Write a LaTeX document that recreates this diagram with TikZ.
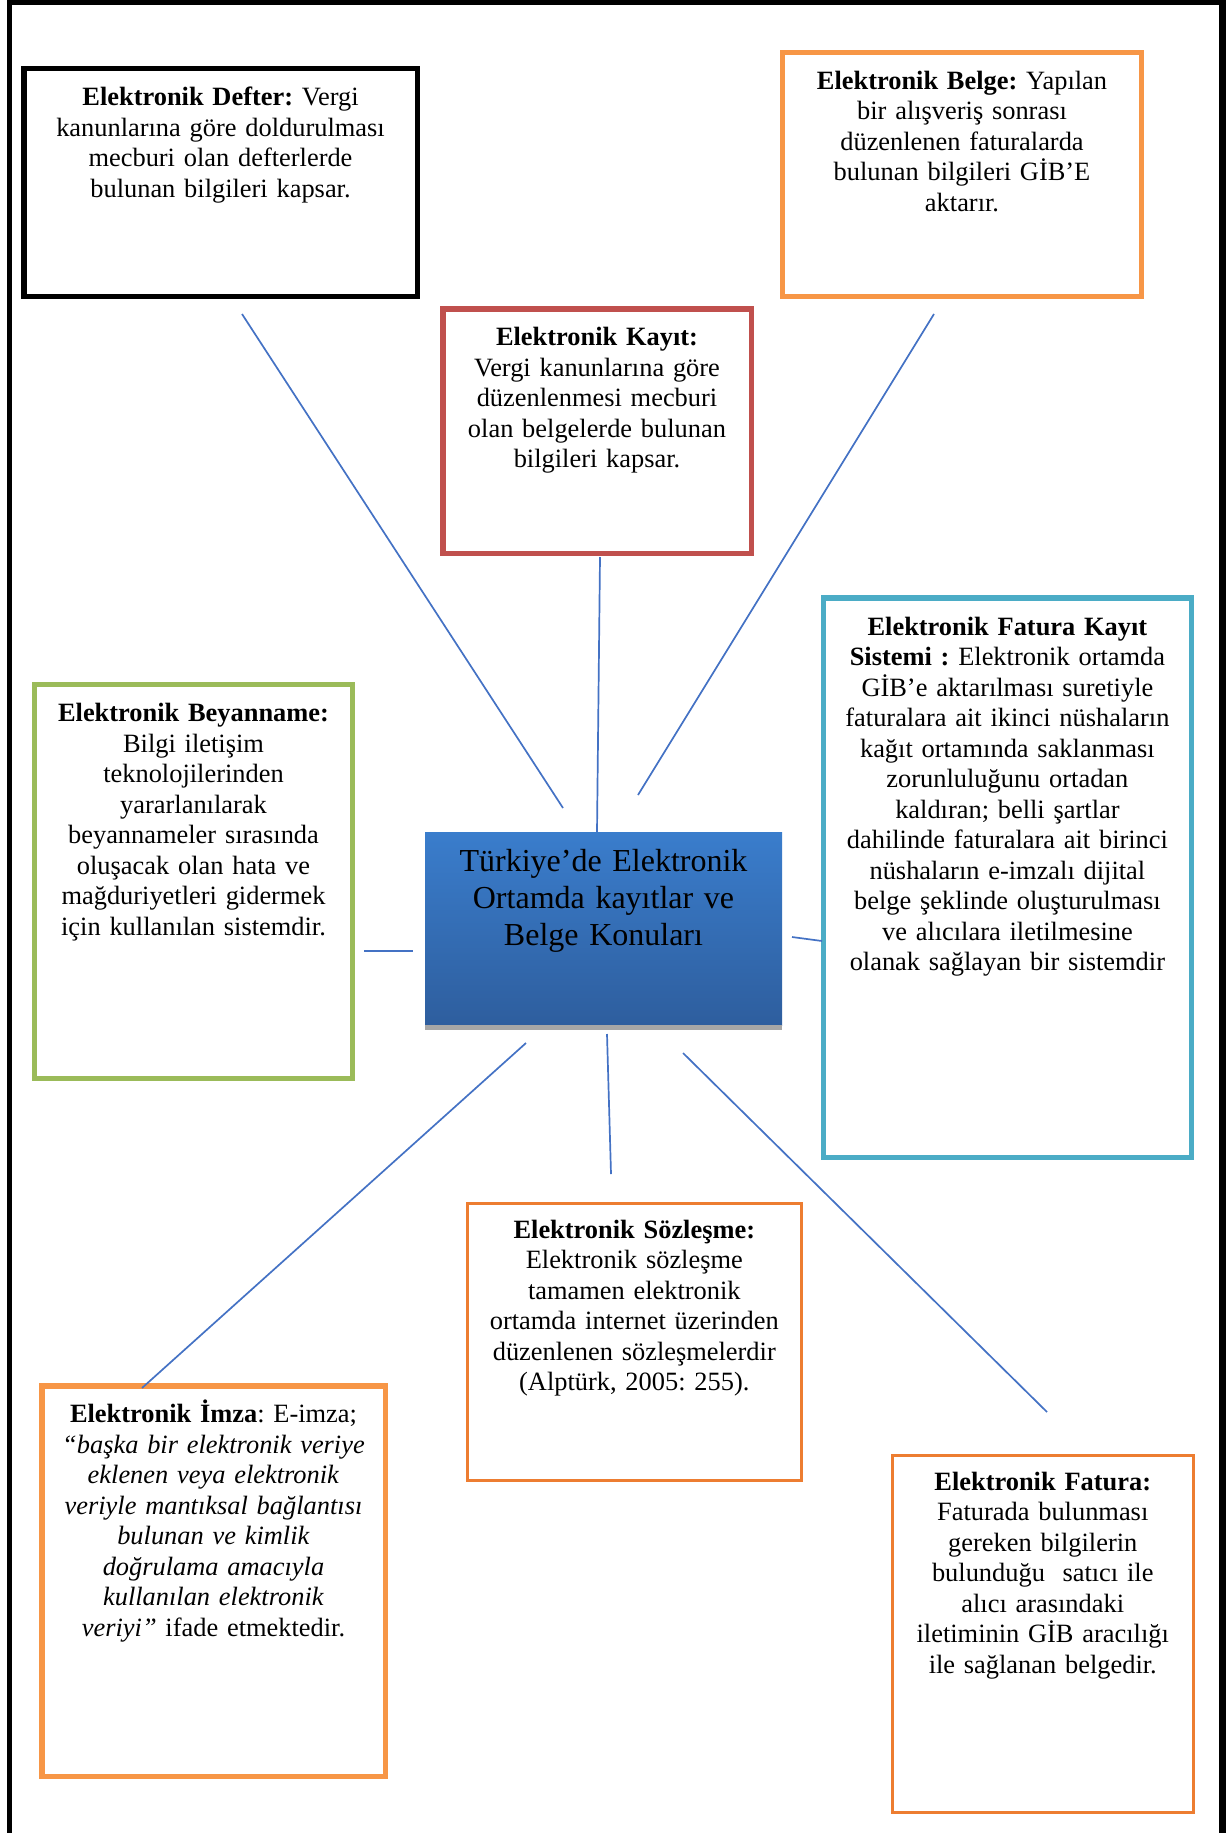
\documentclass[tikz,border=0pt]{standalone}
\usepackage{fontspec}
\setmainfont{Liberation Serif}
\frenchspacing

\begin{document}
\begin{tikzpicture}[x=1pt, y=-1pt]
    % Define styles for boxes, texts and links
    \tikzset{
        box/.style={rectangle, inner sep=0pt, outer sep=0pt},
        thickbox/.style={box, line width=5.5pt},
        thinbox/.style={box, line width=3pt},
        boxtext/.style={anchor=base, inner sep=0pt, align=center, font=\fontsize{26.4}{30.5}\selectfont},
        link/.style={draw=linkblue, line width=1.7pt}
    }
    \definecolor{belgeorange}{HTML}{F79646}
    \definecolor{kayitred}{HTML}{C0504D}
    \definecolor{fkscyan}{HTML}{4BACC6}
    \definecolor{beyangreen}{HTML}{9BBB59}
    \definecolor{darkorange}{HTML}{ED7D31}
    \definecolor{linkblue}{HTML}{4472C4}
    \definecolor{topblue}{HTML}{3A7DCC}
    \definecolor{bottomblue}{HTML}{2E5E9E}
    \definecolor{shadowgray}{HTML}{A6A6A6}

    \useasboundingbox (0,0) rectangle (1226,1833);

    % ==========================================
    % PAGE FRAME (open at the bottom)
    % ==========================================
    \draw[line width=5pt] (9.5,1833) -- (9.5,2.5) -- (1222,2.5);
    \draw[line width=7pt] (1222.5,0) -- (1222.5,1833);

    % ==========================================
    % CENTRAL NODE
    % ==========================================
    \node[box, top color=topblue, bottom color=bottomblue, minimum width=357pt, minimum height=193pt] (centre) at (603.5,928.5) {};
    \fill[shadowgray] (centre.south west) rectangle ++(357,5);
    \node[boxtext, font=\fontsize{32}{37}\selectfont, text width=350pt] (centre-text) at ([yshift=-39.7pt]centre.north)
        {Türkiye’de Elektronik\\Ortamda kayıtlar ve\\Belge Konuları};

    % ==========================================
    % TOPIC BOXES
    % ==========================================
    \node[thickbox, draw=black, minimum width=393.5pt, minimum height=227.5pt] (defter) at (220.5,182.5) {};
    \node[boxtext, text width=385pt] (defter-text) at ([yshift=-37.25pt]defter.north)
        {\textbf{Elektronik Defter:} Vergi\\kanunlarına göre doldurulması\\mecburi olan defterlerde\\bulunan bilgileri kapsar.};

    \node[thickbox, draw=belgeorange, minimum width=359pt, minimum height=244pt] (belge) at (962,174.5) {};
    \node[boxtext, text width=350pt] (belge-text) at ([yshift=-37pt]belge.north)
        {\textbf{Elektronik Belge:} Yapılan\\bir alışveriş sonrası\\düzenlenen faturalarda\\bulunan bilgileri GİB’E\\aktarır.};

    \node[thickbox, draw=kayitred, minimum width=308.5pt, minimum height=244.5pt] (kayit) at (597,431) {};
    \node[boxtext, text width=300pt] (kayit-text) at ([yshift=-37pt]kayit.north)
        {\textbf{Elektronik Kayıt:}\\Vergi kanunlarına göre\\düzenlenmesi mecburi\\olan belgelerde bulunan\\bilgileri kapsar.};

    \node[thickbox, draw=fkscyan, minimum width=367.75pt, minimum height=559.5pt] (fks) at (1007.4,877.5) {};
    \node[boxtext, text width=360pt] (fks-text) at ([yshift=-37.25pt]fks.north)
        {\textbf{Elektronik Fatura Kayıt}\\\textbf{Sistemi :} Elektronik ortamda\\GİB’e aktarılması suretiyle\\faturalara ait ikinci nüshaların\\kağıt ortamında saklanması\\zorunluluğunu ortadan\\kaldıran; belli şartlar\\dahilinde faturalara ait birinci\\nüshaların e-imzalı dijital\\belge şeklinde oluşturulması\\ve alıcılara iletilmesine\\olanak sağlayan bir sistemdir};

    \node[thickbox, draw=beyangreen, minimum width=318pt, minimum height=394pt] (beyan) at (193.5,881.5) {};
    \node[boxtext, text width=310pt] (beyan-text) at ([yshift=-37.2pt]beyan.north)
        {\textbf{Elektronik Beyanname:}\\Bilgi iletişim\\teknolojilerinden\\yararlanılarak\\beyannameler sırasında\\oluşacak olan hata ve\\mağduriyetleri gidermek\\için kullanılan sistemdir.};

    \node[thinbox, draw=darkorange, minimum width=333.7pt, minimum height=277.3pt] (sozlesme) at (634.3,1341.9) {};
    \node[boxtext, text width=325pt] (sozlesme-text) at ([yshift=-35pt]sozlesme.north)
        {\textbf{Elektronik Sözleşme:}\\Elektronik sözleşme\\tamamen elektronik\\ortamda internet üzerinden\\düzenlenen sözleşmelerdir\\(Alptürk, 2005: 255).};

    \node[thickbox, draw=belgeorange, minimum width=343.5pt, minimum height=390.5pt] (imza) at (213.5,1581) {};
    \node[boxtext, text width=335pt] (imza-text) at ([yshift=-37pt]imza.north)
        {\textbf{Elektronik İmza}: E-imza;\\\textit{“başka bir elektronik veriye}\\\textit{eklenen veya elektronik}\\\textit{veriyle mantıksal bağlantısı}\\\textit{bulunan ve kimlik}\\\textit{doğrulama amacıyla}\\\textit{kullanılan elektronik}\\\textit{veriyi”} ifade etmektedir.};

    \node[thinbox, draw=darkorange, minimum width=300.5pt, minimum height=357pt] (fatura) at (1042.75,1634) {};
    \node[boxtext, text width=295pt] (fatura-text) at ([yshift=-34.5pt]fatura.north)
        {\textbf{Elektronik Fatura:}\\Faturada bulunması\\gereken bilgilerin\\bulunduğu~ satıcı ile\\alıcı arasındaki\\iletiminin GİB aracılığı\\ile sağlanan belgedir.};

    % ==========================================
    % LINKS (free ends, with gaps to the boxes)
    % ==========================================
    \coordinate (defter-a) at (242,314);   \coordinate (defter-b) at (563,808);
    \coordinate (kayit-a)  at (600,557);   \coordinate (kayit-b)  at (597,832);
    \coordinate (belge-a)  at (934,314);   \coordinate (belge-b)  at (638,795);
    \coordinate (beyan-a)  at (364,951);   \coordinate (beyan-b)  at (413,951);
    \coordinate (fks-a)    at (792,937);   \coordinate (fks-b)    at (822,941);
    \coordinate (imza-a)   at (526,1043);  \coordinate (imza-b)   at (142,1388);
    \coordinate (sozlesme-a) at (607,1034); \coordinate (sozlesme-b) at (611,1174);
    \coordinate (fatura-a) at (683,1053);  \coordinate (fatura-b) at (1047,1412);

    \foreach \n in {defter, kayit, belge, beyan, fks, imza, sozlesme, fatura} {
        \draw[link] (\n-a) -- (\n-b);
    }

\end{tikzpicture}
\end{document}
